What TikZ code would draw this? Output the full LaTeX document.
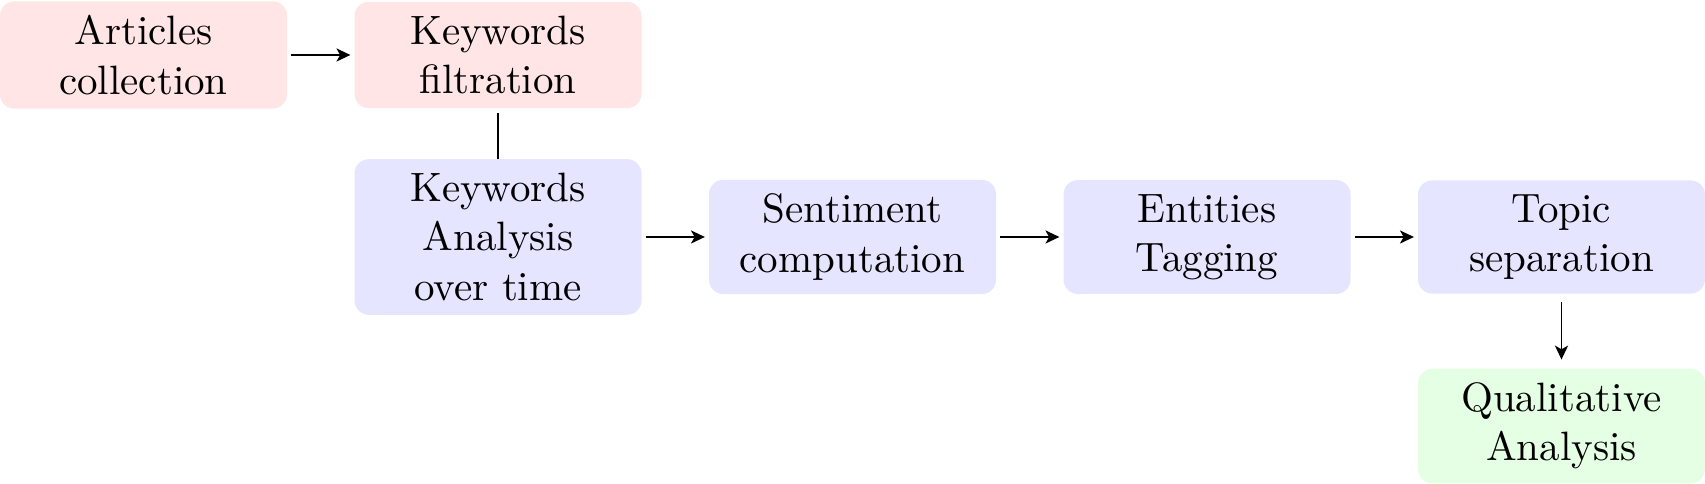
\documentclass[tikz,border=0pt]{standalone}
\usetikzlibrary{arrows.meta}
\begin{document}
\begin{tikzpicture}[x=0.2439pt,y=-0.2439pt,
  box/.style={rounded corners=3.5pt, minimum width=70pt, text width=64pt, align=center, inner xsep=3pt, inner ysep=3.45pt, outer sep=0pt},
  redbox/.style={box, fill=red!10},
  bluebox/.style={box, fill=blue!10},
  greenbox/.style={box, fill=green!10},
  tip/.style={-{Stealth[length=3.4pt, width=3.2pt, inset=0.9pt]}},
  flow/.style={tip, shorten >=1pt, shorten <=1pt}]
\useasboundingbox (0,0) rectangle (1705,484);
\node[redbox] (A) at (143.5,55) {Articles\\collection};
\node[redbox] (F) at (498,55) {Keywords\\filtration};
\node[bluebox] (KA) at (498,237) {Keywords\\Analysis\\over time};
\node[bluebox] (S) at (852.5,237) {Sentiment\\computation};
\node[bluebox] (E) at (1207,237) {Entities\\Tagging};
\node[bluebox] (T) at (1561.5,237) {Topic\\separation};
\node[greenbox] (Q) at (1561.5,426) {Qualitative\\Analysis};
\draw[flow] (A) -- (F);
\draw[shorten <=1.2pt] (F) -- (KA);
\draw[flow] (KA.east) -- (KA.east -| S.west);
\draw[flow] (S) -- (E);
\draw[flow] (E) -- (T);
\draw[tip, shorten >=2.2pt, shorten <=2pt] (T) -- (Q);
\end{tikzpicture}
\end{document}
